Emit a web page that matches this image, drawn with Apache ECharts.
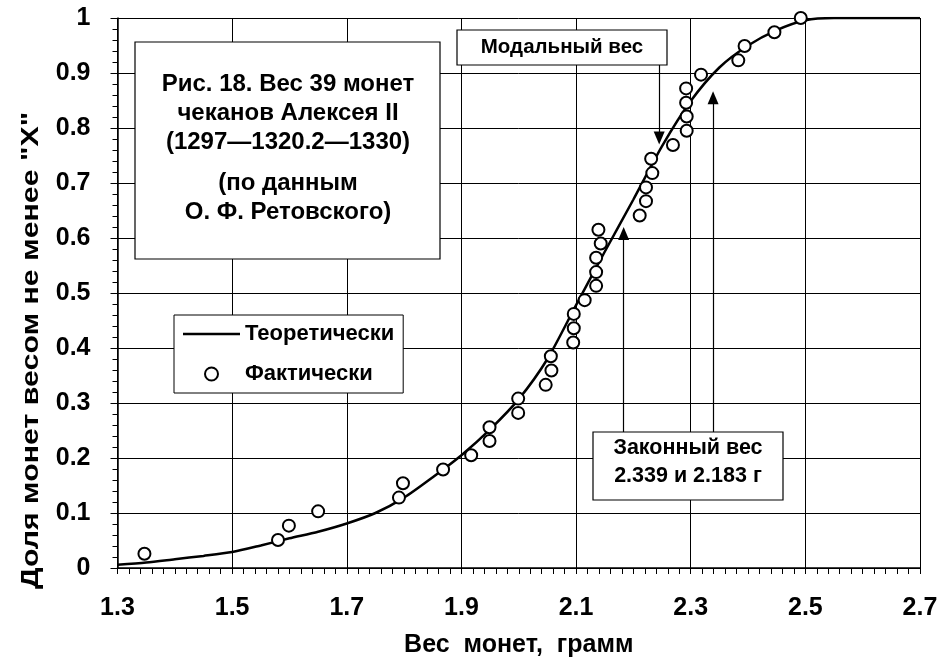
<!DOCTYPE html>
<html>
<head>
<meta charset="utf-8">
<script src="https://cdn.jsdelivr.net/npm/echarts@6/dist/echarts.min.js"></script>
<style>
html,body{margin:0;padding:0;background:#fff;}
#chart{width:944px;height:659px;}
</style>
</head>
<body>
<div id="chart"></div>
<script>
// ---- data ----
const coinWeights = [1.347,1.580,1.599,1.650,1.791,1.798,1.868,1.917,1.949,1.949,
  1.999,1.999,2.047,2.057,2.056,2.095,2.096,2.096,2.115,2.135,
  2.135,2.135,2.143,2.139,2.211,2.222,2.222,2.233,2.231,2.269,
  2.293,2.293,2.292,2.292,2.318,2.383,2.394,2.446,2.492];
const coinShares = [0.026,0.051,0.077,0.103,0.128,0.154,0.179,0.205,0.231,0.256,
  0.282,0.308,0.333,0.359,0.385,0.410,0.436,0.462,0.487,0.513,
  0.538,0.564,0.590,0.615,0.641,0.667,0.692,0.718,0.744,0.769,
  0.795,0.821,0.846,0.872,0.897,0.923,0.949,0.974,1.000];
const curveX = [1.30,1.35,1.40,1.45,1.50,1.55,1.60,1.65,1.70,1.75,1.80,1.85,1.90,1.95,2.00,
  2.05,2.10,2.15,2.20,2.25,2.30,2.35,2.40,2.45,2.50,2.55,2.60,2.65,2.70];
const curveY = [0.006,0.010,0.016,0.022,0.029,0.041,0.054,0.066,0.081,0.100,0.128,0.165,0.205,0.252,0.307,
  0.380,0.478,0.575,0.670,0.767,0.849,0.910,0.950,0.978,0.996,1.000,1.000,1.000,1.000];
const xTickLabels = [1.3,1.5,1.7,1.9,2.1,2.3,2.5,2.7];
const arrowX    = [2.245, 2.183, 2.339];
const arrowFrom = [0.915, 0.247, 0.247];
const arrowTo   = [0.782, 0.608, 0.855];
const seriesNames = ['Теоретически','Фактически'];
const titleLines = ['Рис. 18. Вес 39 монет','чеканов Алексея II','(1297—1320.2—1330)','(по данным','О. Ф. Ретовского)'];
const modalLabel = 'Модальный вес';
const legalLines = ['Законный вес','2.339 и 2.183 г'];
const xTitle = 'Вес  монет,  грамм';
const yTitle = 'Доля монет весом не менее "X"';

const FONT = '"Liberation Sans", Arial, sans-serif';
const chart = echarts.init(document.getElementById('chart'), null, {renderer:'canvas'});

const curveData = curveX.map((x,i)=>[x, curveY[i]]);
const coinData = coinWeights.map((x,i)=>[x, coinShares[i]]);
const arrowData = arrowX.map((x,i)=>[{coord:[x, arrowFrom[i]]},{coord:[x, arrowTo[i]]}]);

const txt = (text, x, y, size, extra) => Object.assign({
  type:'text', x:x, y:y, z:20,
  style:{text:text, font:'bold '+size+'px '+FONT, fill:'#000', align:'center', verticalAlign:'middle'}
}, extra||{});

const option = {
  animation:false,
  backgroundColor:'#fff',
  grid:{left:117.5, right:24, top:18, bottom:91, containLabel:false, outerBoundsMode:'none'},
  xAxis:[{
    type:'value', min:1.3, max:2.7, interval:0.1, position:'bottom',
    axisLine:{show:true, onZero:false, lineStyle:{color:'#000', width:1.5}},
    axisTick:{show:true, inside:false, length:6, lineStyle:{color:'#000', width:1}},
    minorTick:{show:true, splitNumber:5, length:6, lineStyle:{color:'#000', width:1}},
    splitLine:{show:false},
    axisLabel:{customValues:xTickLabels, margin:28, fontSize:25, fontWeight:'bold', fontFamily:FONT, color:'#000'},
    name:xTitle, nameLocation:'middle', nameGap:65,
    nameTextStyle:{fontSize:25, fontWeight:'bold', fontFamily:FONT, color:'#000'}
  },{
    type:'value', min:1.2, max:2.6, interval:0.2, position:'bottom',
    axisLine:{show:false}, axisLabel:{show:false},
    axisTick:{show:true, inside:true, length:6, lineStyle:{color:'#000', width:1}},
    splitLine:{show:true, lineStyle:{color:'#000', width:1}}
  }],
  yAxis:[{
    type:'value', min:0, max:1, interval:0.1, position:'left',
    axisLine:{show:true, onZero:false, lineStyle:{color:'#000', width:1.5}},
    axisTick:{show:true, inside:false, length:7, lineStyle:{color:'#000', width:1}},
    minorTick:{show:true, splitNumber:5, length:5, lineStyle:{color:'#000', width:1}},
    splitLine:{show:true, lineStyle:{color:'#000', width:1}},
    axisLabel:{margin:27, fontSize:25, fontWeight:'bold', fontFamily:FONT, color:'#000',
      formatter:v => (v===0||v===1) ? String(v) : v.toFixed(1)}
  },{
    type:'value', min:0, max:1, interval:0.1, position:'left',
    axisLine:{show:false}, axisLabel:{show:false}, splitLine:{show:false},
    axisTick:{show:true, inside:true, length:7, lineStyle:{color:'#000', width:1}}
  }],
  legend:{
    orient:'vertical', left:174, top:315,
    backgroundColor:'#fff', borderColor:'#000', borderWidth:1, borderRadius:0,
    padding:[8,9,8,9], itemGap:18, itemWidth:57, itemHeight:13,
    textStyle:{fontSize:22, fontWeight:'bold', fontFamily:FONT, color:'#000'},
    data:[{name:seriesNames[0], icon:'path://M0,0H57V2.5H0Z'}, {name:seriesNames[1]}]
  },
  series:[{
    name:seriesNames[0], type:'line', data:curveData, symbol:'none', smooth:0.25,
    xAxisIndex:0, yAxisIndex:0, z:3,
    lineStyle:{color:'#000', width:2.5}, itemStyle:{color:'#000'},
    markLine:{
      silent:true, symbol:['none','triangle'], symbolSize:[11,13],
      label:{show:false},
      lineStyle:{color:'#000', width:1.2, type:'solid'},
      itemStyle:{color:'#000'},
      data:arrowData
    }
  },{
    name:seriesNames[1], type:'scatter', data:coinData, symbol:'circle', symbolSize:12,
    xAxisIndex:0, yAxisIndex:0, z:4,
    itemStyle:{color:'#fff', borderColor:'#000', borderWidth:2, opacity:1}
  }],
  graphic:[
    {type:'rect', z:15, shape:{x:135, y:42, width:305, height:217},
      style:{fill:'#fff', stroke:'#000', lineWidth:1.2}},
    txt(titleLines[0], 288, 84, 24),
    txt(titleLines[1], 288, 113, 24),
    txt(titleLines[2], 288, 142, 24),
    txt(titleLines[3], 288, 183, 24),
    txt(titleLines[4], 288, 212, 24),
    {type:'rect', z:15, shape:{x:457, y:30, width:210, height:35},
      style:{fill:'#fff', stroke:'#000', lineWidth:1.2}},
    txt(modalLabel, 562, 47.5, 20.5),
    {type:'rect', z:15, shape:{x:593, y:432, width:190, height:68},
      style:{fill:'#fff', stroke:'#000', lineWidth:1.2}},
    txt(legalLines[0], 688, 448.5, 21.5),
    txt(legalLines[1], 688, 476.5, 21.5),
    txt(yTitle, 31.7, 350.5, 23, {rotation:Math.PI/2, scaleX:1.32})
  ]
};
chart.setOption(option);
</script>
</body>
</html>
